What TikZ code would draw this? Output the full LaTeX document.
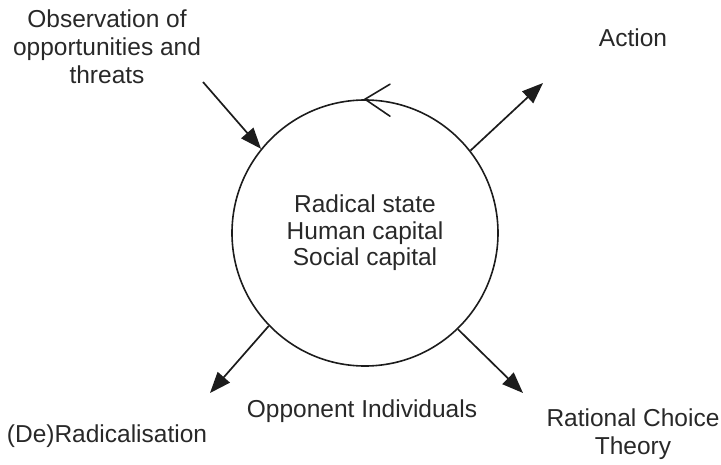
\documentclass[tikz,border=0pt]{standalone}
\usepackage{fontspec}
\setmainfont{Liberation Sans}
\usetikzlibrary{arrows.meta}
\definecolor{ink}{RGB}{28,28,28}
\definecolor{txt}{RGB}{40,40,40}
\begin{document}
\begin{tikzpicture}[x=1pt,y=-1pt,
  lbl/.style={font=\fontsize{24.5}{28}\selectfont, text=txt, inner sep=0pt, anchor=base, align=center},
  core/.style={circle, draw=ink, line width=1.6pt, minimum size=266pt, inner sep=0pt,
               font=\fontsize{24.5}{26.5}\selectfont, text=txt, align=center},
  link/.style={draw=ink, line width=1.7pt, -{Triangle[length=21pt,width=16pt]}},
  cycle/.style={draw=ink, line width=1.6pt, line cap=round, line join=miter},
]
\useasboundingbox (0,0) rectangle (721,464);

% central state circle
\node[core] (core) at (365,233) {Radical state\\Human capital\\Social capital};

% open chevron showing the direction of the cycle
\draw[cycle] (core.north) ++(25,-15) -- (core.north) -- ++(25,17);

% surrounding labels (base anchor = baseline of the last line)
\node[lbl] (obs) at (107,83) {Observation of\\opportunities and\\threats};
\node[lbl] (act) at (633,46) {Action};
\node[lbl] (derad) at (107,442) {(De)Radicalisation};
\node[lbl] (opp) at (362,417) {Opponent Individuals};
\node[lbl] (rct) at (633,454) {Rational Choice\\Theory};

% free ends of the connectors
\coordinate (obsTail) at (203,82);
\coordinate (actTip) at (543,83);
\coordinate (deradTip) at (210,393);
\coordinate (rctTip) at (523,393);

\draw[link] (obsTail) -- (core.141);
\draw[link] (core.38.5) -- (actTip);
\draw[link] (core.224.4) -- (deradTip);
\draw[link] (core.314.4) -- (rctTip);
\end{tikzpicture}
\end{document}
